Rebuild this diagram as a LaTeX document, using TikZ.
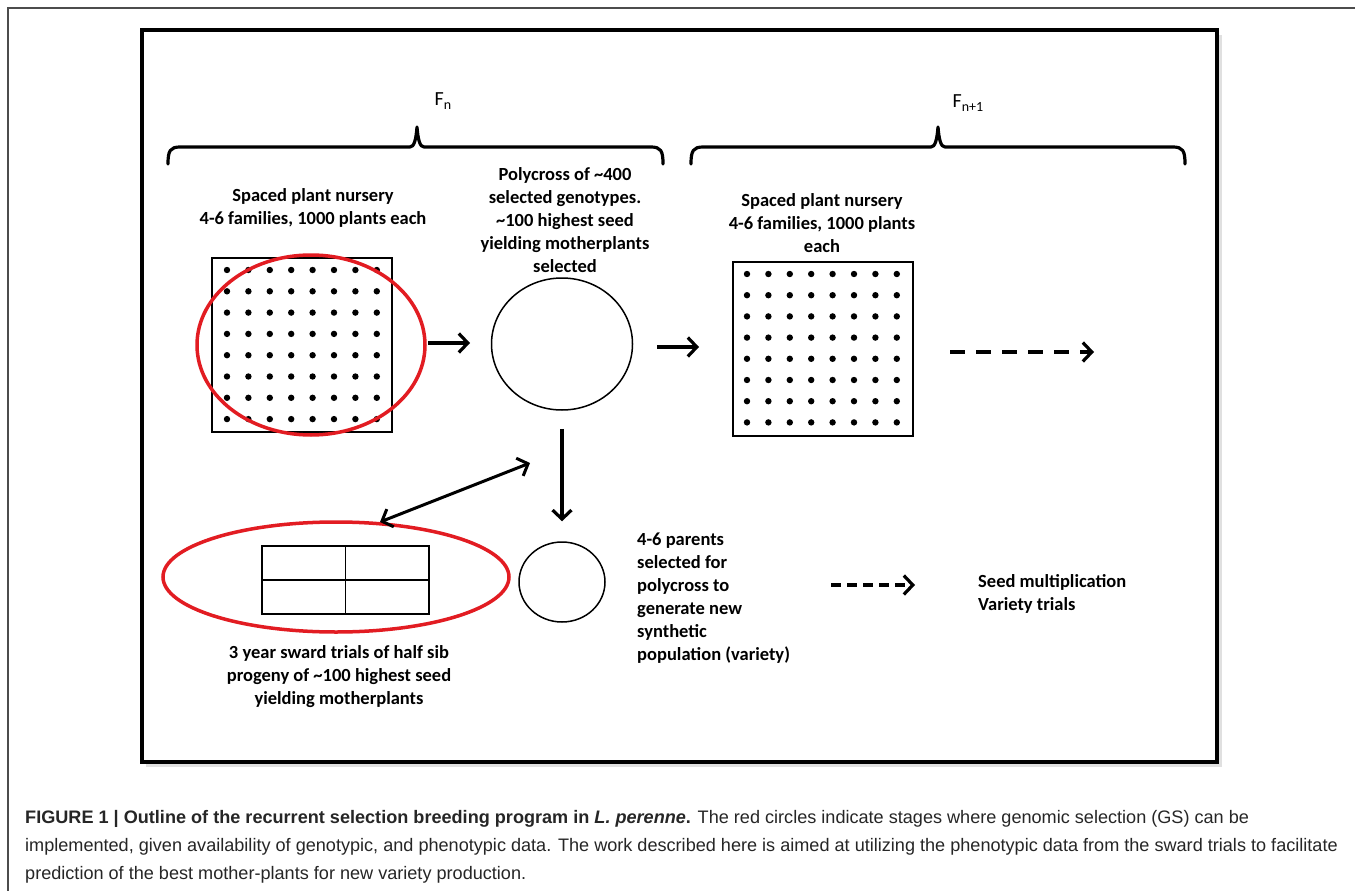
\documentclass[tikz,border=0pt]{standalone}
\usepackage{fontspec}
\setmainfont{Carlito}
\newfontfamily\capfont{Liberation Sans}
\usetikzlibrary{arrows.meta,shapes.geometric}
\definecolor{gsred}{RGB}{226,28,34}
\begin{document}
\begin{tikzpicture}[x=1pt,y=-1pt,
  lbl/.style={font=\bfseries\fontsize{18.5}{23}\selectfont, align=center, inner sep=0pt},
  arr/.style={line width=3.2pt, -{Straight Barb[length=9pt,width=19pt,line width=3.2pt]}},
  darr/.style={arr, dash pattern=on 15pt off 11pt},
  sdarr/.style={arr, dash pattern=on 10pt off 6pt},
  brace/.style={line width=3.2pt, line cap=round, line join=round},
  redring/.style={draw=gsred, line width=3.5pt, ellipse, inner sep=0pt},
  ring/.style={draw, line width=1.5pt, ellipse, inner sep=0pt},
  field/.style={draw, line width=1.8pt, rectangle, inner sep=0pt}]
\useasboundingbox (0,0) rectangle (1355,891);
\fill[white] (0,0) rectangle (1355,891);
% outer page frame
\draw[black!70, line width=1.2pt] (8,891) -- (8,8) -- (1355,8);
% inner framed box with a light shadow
\fill[black!12] (146,35) rectangle (1222,767);
\fill[white] (142,30) rectangle (1217,762);
\draw[line width=4pt] (142,30) rectangle (1217,762);

% braces
\draw[brace] (168,164) .. controls (168,151) and (170,147) .. (180,147) -- (410,147)
  .. controls (414,147) and (416,140) .. (417,127) .. controls (418,140) and (420,147) .. (424,147)
  -- (651,147) .. controls (661,147) and (663,151) .. (663,164);
\draw[brace] (691,164) .. controls (691,151) and (693,147) .. (703,147) -- (931,147)
  .. controls (935,147) and (937,140) .. (938,127) .. controls (939,140) and (941,147) .. (945,147)
  -- (1173,147) .. controls (1183,147) and (1185,151) .. (1185,164);
\node[font=\fontsize{20}{22}\selectfont, inner sep=0pt] (fn) at (443,101)
  {F\raisebox{-0.4ex}{\fontsize{14}{14}\selectfont n}};
\node[font=\fontsize{20}{22}\selectfont, inner sep=0pt] (fn1) at (968,103)
  {F\raisebox{-0.4ex}{\fontsize{14}{14}\selectfont n+1}};

% texts
\node[lbl] (t1) at (313,208) {Spaced plant nursery\\4-6 families, 1000 plants each};
\node[lbl] (t2) at (565,220) {Polycross of \textasciitilde400\\selected genotypes.\\\textasciitilde100 highest seed\\yielding motherplants\\selected};
\node[lbl] (t3) at (822,223) {Spaced plant nursery\\4-6 families, 1000 plants\\each};
\node[lbl] (t4) at (339,677) {3 year sward trials of half sib\\progeny of \textasciitilde100 highest seed\\yielding motherplants};
\node[lbl, align=left, anchor=west] (t5) at (637,598) {4-6 parents\\selected for\\polycross to\\generate new\\synthetic\\population (variety)};
\node[lbl, align=left, anchor=west] (t6) at (978,594) {Seed multiplication\\Variety trials};

% left nursery grid
\node[field, minimum width=180pt, minimum height=174pt] (g1) at (302,345) {};
\foreach \i in {0,...,7} \foreach \j in {0,...,7}
  \fill (227+21.4*\i, 270+21.3*\j) circle (3.2pt);
% right nursery grid
\node[field, minimum width=180pt, minimum height=174pt] (g2) at (823,349) {};
\foreach \i in {0,...,7} \foreach \j in {0,...,7}
  \fill (747+21.4*\i, 274+21.2*\j) circle (3.2pt);
% red ring on left grid
\node[redring, minimum width=228pt, minimum height=180pt] (r1) at (311,345) {};

% polycross circle
\node[ring, minimum width=141pt, minimum height=132pt] (c1) at (562,344) {};
% small circle
\node[ring, minimum width=86pt, minimum height=80pt] (c2) at (562,582) {};

% sward field
\node[field, minimum width=167pt, minimum height=68pt] (sw) at (345.5,580) {};
\draw[line width=1.8pt] (sw.north) -- (sw.south);
\draw[line width=1.8pt] (sw.west) -- (sw.east);
% red ring on sward
\node[redring, minimum width=346pt, minimum height=110pt] (r2) at (336,577) {};

% arrow end points
\coordinate (a1s) at (428,343); \coordinate (a1e) at (470,343);
\coordinate (a2s) at (657,347); \coordinate (a2e) at (699,347);
\coordinate (d1s) at (950,352); \coordinate (d1e) at (1094,352);
\coordinate (d2s) at (831,585); \coordinate (d2e) at (915,585);
\coordinate (bs) at (380,522); \coordinate (be) at (530,463);

\draw[arr] (a1s) -- (a1e);
\draw[arr] (a2s) -- (a2e);
\draw[darr] (d1s) -- (d1e);
\draw[sdarr] (d2s) -- (d2e);
\draw[arr, shorten <=18pt, shorten >=20pt] (c1.south) -- (c2.north);
\draw[line width=3pt, {Straight Barb[length=9pt,width=19pt,line width=3pt]}-{Straight Barb[length=9pt,width=19pt,line width=3pt]}] (bs) -- (be);

% caption
\node[anchor=north west, align=left, inner sep=0pt, text=black!85,
  font=\capfont\fontsize{18.1}{28}\selectfont] (cap) at (25,810)
  {\textbf{FIGURE 1 | Outline of the recurrent selection breeding program in \textit{L. perenne}.} The red circles indicate stages where genomic selection (GS) can be\\
   implemented, given availability of genotypic, and phenotypic data. The work described here is aimed at utilizing the phenotypic data from the sward trials to facilitate\\
   prediction of the best mother-plants for new variety production.};
\end{tikzpicture}
\end{document}
